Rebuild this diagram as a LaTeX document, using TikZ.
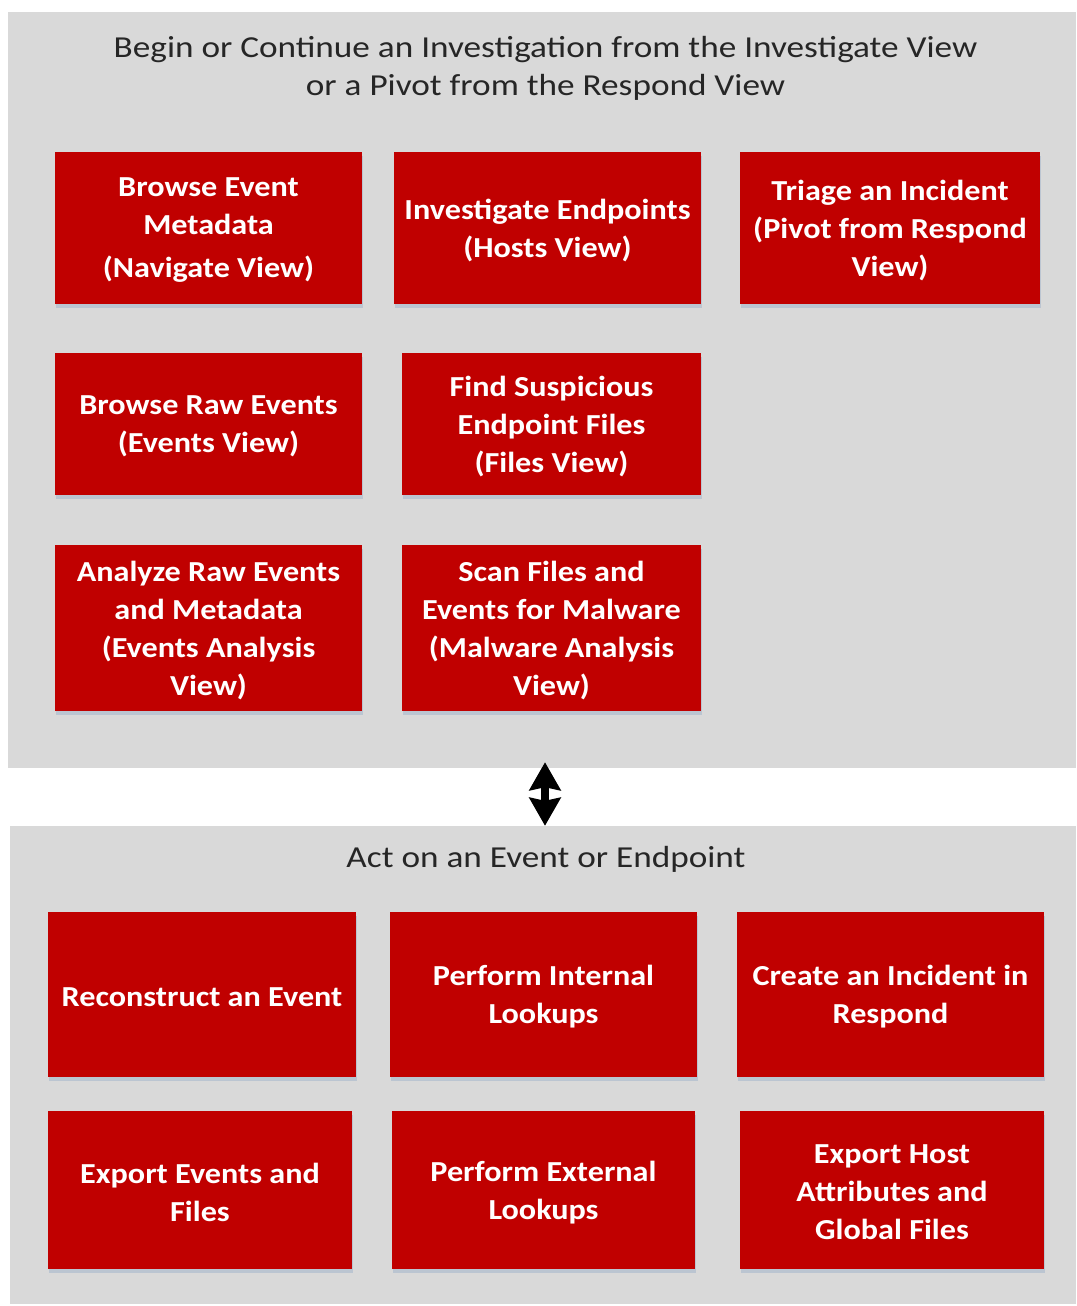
\documentclass[tikz,border=0pt]{standalone}
\usepackage{fontspec}
\setmainfont{Carlito}
\newfontfamily\boxfont[FakeStretch=1.11]{Carlito}
\newfontfamily\titlefont[FakeStretch=1.155]{Carlito}
\usetikzlibrary{arrows.meta,shadows}
\definecolor{boxred}{HTML}{C00000}
\definecolor{panelgray}{HTML}{D9D9D9}
\definecolor{shadowblue}{HTML}{AFBDCF}
\newcommand{\redbox}[6]{%
  \node[redbox,minimum width=#4pt,minimum height=#5pt] (#1) at (#2,#3) {};
  \node[boxtext] (#1-text) at ([yshift=-2.5pt]#1.center) {#6};}
\begin{document}
\begin{tikzpicture}[x=1pt,y=-1pt,
  panelbox/.style={fill=panelgray,draw=none,inner sep=0pt},
  redbox/.style={fill=boxred,draw=none,inner sep=0pt,
    drop shadow={shadow xshift=1pt,shadow yshift=-4pt,fill=shadowblue,opacity=0.7}},
  boxtext/.style={text=white,inner sep=0pt,align=center,
    font=\boxfont\fontsize{29}{38}\selectfont\bfseries},
  titletext/.style={inner sep=0pt,align=center,text=black!85,font=\titlefont\fontsize{30.5}{38}\selectfont},
  dblarrow/.style={line width=8pt,draw=black,{Stealth[length=28pt,width=31pt,inset=3pt]}-{Stealth[length=28pt,width=31pt,inset=3pt]}}
]
\useasboundingbox (0,0) rectangle (1076,1306);
\fill[white] (0,0) rectangle (1076,1306);

% panels
\node[panelbox,minimum width=1068pt,minimum height=756pt] (toppanel) at (542,390) {};
\node[panelbox,minimum width=1066pt,minimum height=478pt] (botpanel) at (543,1065) {};

\node[titletext] (toptitle) at (545.5,68) {Begin or Continue an Investigation from the Investigate View\\or a Pivot from the Respond View};
\node[titletext] (bottitle) at (546,859) {Act on an Event or Endpoint};

% top boxes
\redbox{b1}{208.5}{228}{307}{152}{Browse Event\\Metadata\\[5pt](Navigate View)}
\redbox{b2}{547.5}{228}{307}{152}{Investigate Endpoints\\(Hosts View)}
\redbox{b3}{890}{228}{300}{152}{Triage an Incident\\(Pivot from Respond\\View)}
\redbox{b4}{208.5}{424}{307}{142}{Browse Raw Events\\(Events View)}
\redbox{b5}{551.5}{424}{299}{142}{Find Suspicious\\Endpoint Files\\(Files View)}
\redbox{b6}{208.5}{628}{307}{166}{Analyze Raw Events\\and Metadata\\(Events Analysis\\View)}
\redbox{b7}{551.5}{628}{299}{166}{Scan Files and\\Events for Malware\\(Malware Analysis\\View)}

% bottom boxes
\redbox{c1}{202}{994.5}{308}{165}{Reconstruct an Event}
\redbox{c2}{543.5}{994.5}{307}{165}{Perform Internal\\Lookups}
\redbox{c3}{890.5}{994.5}{307}{165}{Create an Incident in\\Respond}
\redbox{d1}{200}{1190}{304}{158}{Export Events and\\Files}
\redbox{d2}{543.5}{1190}{303}{158}{Perform External\\Lookups}
\redbox{d3}{892}{1190}{304}{158}{Export Host\\Attributes and\\Global Files}

% connector
\draw[dblarrow] ([xshift=3pt,yshift=6pt]toppanel.south) -- ([xshift=2pt]botpanel.north);
\end{tikzpicture}
\end{document}
